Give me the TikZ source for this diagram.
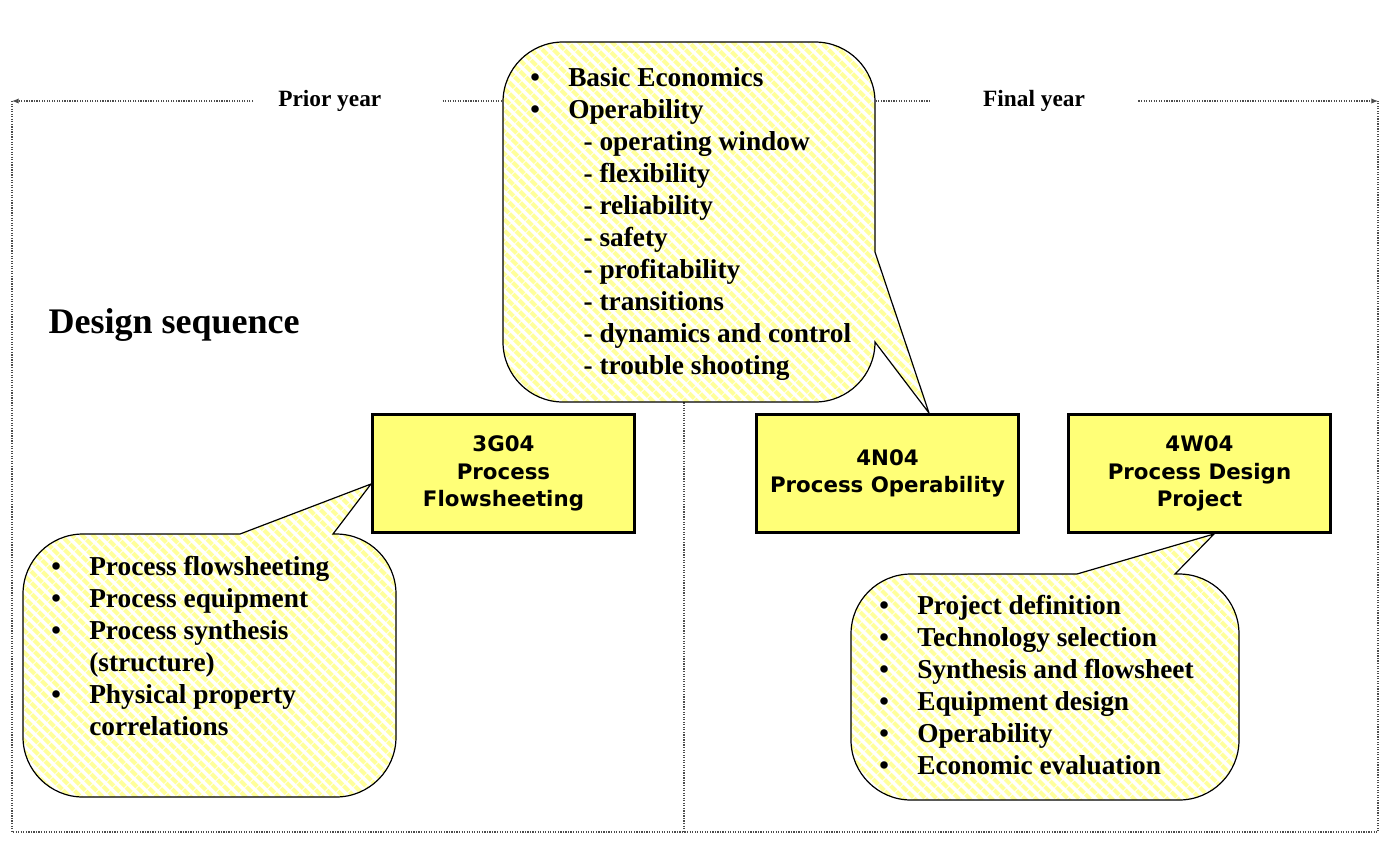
\documentclass[tikz,border=0pt]{standalone}
\usepackage{fontspec}
\setmainfont{Liberation Serif}
\newfontfamily\boxfont{DejaVu Sans}
\usetikzlibrary{arrows.meta,patterns.meta}

\definecolor{boxyellow}{RGB}{255,255,119}
\definecolor{stripeyellow}{RGB}{255,255,155}

\tikzset{
  frame/.style={densely dotted, line width=0.9pt, draw=black!70},
  frametip/.style={-{Latex[length=5pt,width=4pt]}},
  course/.style={draw, line width=2.25pt, fill=boxyellow, minimum width=196.5pt, minimum height=88.5pt,
    align=center, font=\boxfont\bfseries\fontsize{16}{20.5}\selectfont},
  callout/.style={draw, line width=0.9pt, preaction={fill=white},
    pattern={Lines[angle=-45,distance=6.5pt,line width=3.6pt]}, pattern color=stripeyellow},
  topics/.style={anchor=north west, inner sep=0pt, align=left, font=\bfseries\fontsize{20.5}{24}\selectfont},
  yearlabel/.style={inner ysep=2pt, font=\bfseries\fontsize{17.5}{20}\selectfont},
}
\newcommand{\itm}{\makebox[28.5pt][l]{\textbullet}}
\newcommand{\subitm}{\hspace*{40pt}}
\newcommand{\contitm}{\hspace*{28.5pt}}

\begin{document}
\begin{tikzpicture}[x=0.75pt,y=-0.75pt]
\useasboundingbox (0,0) rectangle (1388,844);

% frame with the two years
\coordinate (tl) at (12,101);
\coordinate (tr) at (1378,101);
\coordinate (bl) at (12,832);
\coordinate (br) at (1378,832);
\coordinate (tm) at (684,101);
\coordinate (bm) at (684,832);
\node[yearlabel, inner xsep=18.75pt, anchor=west] (prior) at (253,101) {Prior year\hspace*{27pt}};
\node[yearlabel, inner xsep=40pt] (final) at (1034,101) {Final year};
\draw[frame, frametip] (prior.west) -- (tl);
\draw[frame, frametip] (final.east) -- (tr);
\draw[frame] (prior.east) -- (final.west);
\draw[frame] (tl) -- (bl) -- (br) -- (tr);
\draw[frame] (tm) -- (bm);

\node[anchor=west, font=\bfseries\fontsize{27}{30}\selectfont] (title) at (44,325) {Design sequence};

% callouts
\draw[callout] (875,252) -- (929,413) -- (875,342)
  arc[start angle=0, end angle=90, radius=60] -- (563,402)
  arc[start angle=90, end angle=180, radius=60] -- (503,102)
  arc[start angle=180, end angle=270, radius=60] -- (815,42)
  arc[start angle=270, end angle=360, radius=60] -- cycle;
\draw[callout] (240,534) -- (371,484) -- (333,534) -- (336,534)
  arc[start angle=270, end angle=360, radius=60] -- (396,737)
  arc[start angle=0, end angle=90, radius=60] -- (83,797)
  arc[start angle=90, end angle=180, radius=60] -- (23,594)
  arc[start angle=180, end angle=270, radius=60] -- cycle;
\draw[callout] (1077,574) -- (1214,534) -- (1175,574) -- (1179,574)
  arc[start angle=270, end angle=360, radius=60] -- (1239,740)
  arc[start angle=0, end angle=90, radius=60] -- (911,800)
  arc[start angle=90, end angle=180, radius=60] -- (851,634)
  arc[start angle=180, end angle=270, radius=60] -- cycle;

% courses
\node[course] (flow) at (503.5,473.5) {3G04\\Process\\Flowsheeting};
\node[course] (oper) at (887.5,473.5) {4N04\\Process Operability};
\node[course] (proj) at (1199.5,473.5) {4W04\\Process Design\\Project};

% topics
\node[topics] (opertopics) at (530,67) {\itm Basic Economics\\ \itm Operability\\
  \subitm - operating window\\ \subitm - flexibility\\ \subitm - reliability\\
  \subitm - safety\\ \subitm - profitability\\ \subitm - transitions\\
  \subitm - dynamics and control\\ \subitm - trouble shooting};
\node[topics] (flowtopics) at (51,556) {\itm Process flowsheeting\\ \itm Process equipment\\
  \itm Process synthesis\\ \contitm (structure)\\ \itm Physical property\\ \contitm correlations};
\node[topics] (projtopics) at (879,595) {\itm Project definition\\ \itm Technology selection\\
  \itm Synthesis and flowsheet\\ \itm Equipment design\\ \itm Operability\\ \itm Economic evaluation};
\end{tikzpicture}
\end{document}
